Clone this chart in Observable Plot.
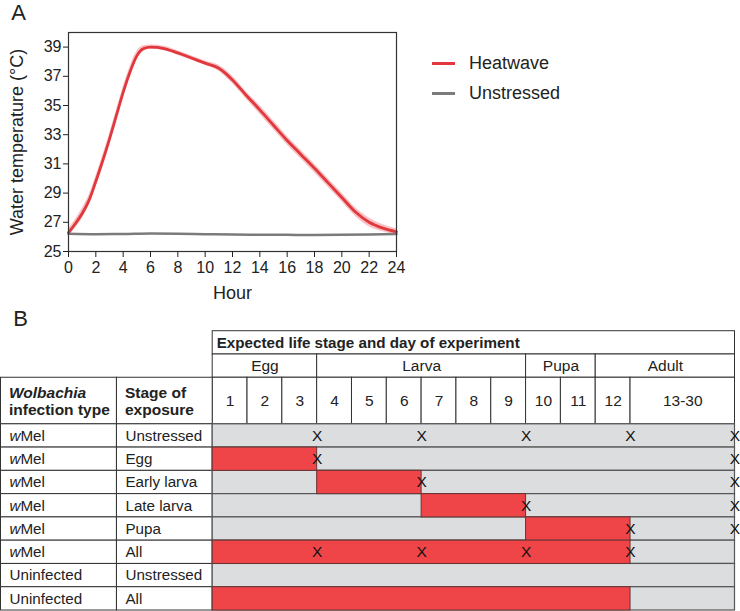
<!DOCTYPE html>
<html><head><meta charset="utf-8">
<script src="https://cdn.jsdelivr.net/npm/d3@7"></script>
<script src="https://cdn.jsdelivr.net/npm/@observablehq/plot@0.6"></script>
<style>
body{margin:0;background:#fff;}
#wrap{position:relative;width:740px;height:611px;font-family:"Liberation Sans",Arial,Helvetica,sans-serif;color:#222;overflow:hidden;}
#wrap svg{display:block;}
.legend{position:absolute;left:432px;top:48.75px;}
.legend .row{display:flex;align-items:center;height:29.5px;font-size:18px;}
.legend .sw{display:inline-block;width:23px;height:3px;margin-right:14px;}
</style></head><body><div id="wrap"></div>
<script>
// ---------- Panel A data ----------
const hours      = [0,0.5,1,1.5,2,2.5,3,3.5,4,4.5,5,5.5,6,7,8,9,10,11,12,13,14,15,16,17,18,19,20,21,22,23,24];
const heatwave   = [26.3,26.9,27.6,28.5,29.8,31.2,32.7,34.3,35.9,37.3,38.4,38.9,39.0,38.9,38.6,38.25,37.9,37.55,36.75,35.7,34.7,33.65,32.6,31.65,30.7,29.7,28.7,27.7,27.0,26.6,26.35];
const heatwaveSE = [0.25,0.3,0.35,0.35,0.35,0.35,0.35,0.35,0.35,0.35,0.3,0.2,0.15,0.15,0.15,0.15,0.15,0.2,0.25,0.25,0.3,0.3,0.3,0.3,0.3,0.3,0.3,0.3,0.3,0.25,0.2];
const unstressedHours = [0,2,4,6,8,10,12,14,16,18,20,22,24];
const unstressed      = [26.22,26.19,26.2,26.23,26.22,26.19,26.16,26.15,26.14,26.13,26.14,26.16,26.2];
const hourTicks = [0,2,4,6,8,10,12,14,16,18,20,22,24];
const tempTicks = [25,27,29,31,33,35,37,39];
const seriesNames  = ["Heatwave","Unstressed"];
const seriesColors = ["#e2383d","#7b7b7b"];

// ---------- Panel B data ----------
const headerTitle = "Expected life stage and day of experiment";
const lifeStages     = ["Egg","Larva","Pupa","Adult"];
const stageStartDay  = [1,4,10,12];
const stageEndDay    = [3,9,11,30];
const dayLabels = ["1","2","3","4","5","6","7","8","9","10","11","12","13-30"];
const dayStart  = [1,2,3,4,5,6,7,8,9,10,11,12,13];
const dayEnd    = [1,2,3,4,5,6,7,8,9,10,11,12,30];
const colHeaders    = ["Wolbachia\ninfection type","Stage of\nexposure"];
const infectionType = ["wMel","wMel","wMel","wMel","wMel","wMel","Uninfected","Uninfected"];
const exposureStage = ["Unstressed","Egg","Early larva","Late larva","Pupa","All","Unstressed","All"];
const heatFirstDay  = [null,1,4,7,10,1,null,1];
const heatLastDay   = [null,3,6,9,12,12,null,12];
const sampleDays    = [[3,6,9,12,30],[3,30],[6,30],[9,30],[12,30],[3,6,9,12],[],[]];

const font = '"Liberation Sans", Arial, Helvetica, sans-serif';
const wrap = document.getElementById("wrap");

// ---------- Panel A ----------
const heatData = hours.map((h,i)=>({h, t:heatwave[i], lo:heatwave[i]-heatwaveSE[i], hi:heatwave[i]+heatwaveSE[i]}));
const unData = unstressedHours.map((h,i)=>({h, t:unstressed[i]}));

const plotA = Plot.plot({
  width: 740, height: 305,
  marginLeft: 68, marginRight: 344, marginTop: 32, marginBottom: 54,
  style: {fontFamily: font, fontSize: "16px", color: "#222", background: "#fff", overflow: "visible"},
  x: {domain: [0,24]},
  y: {domain: [25,40]},
  marks: [
    Plot.areaY(heatData, {x:"h", y1:"lo", y2:"hi", fill:"#f6b3b6", fillOpacity:0.8, curve:"monotone-x"}),
    Plot.lineY(unData, {x:"h", y:"t", stroke:seriesColors[1], strokeWidth:2.5, curve:"monotone-x"}),
    Plot.lineY(heatData, {x:"h", y:"t", stroke:seriesColors[0], strokeWidth:2.8, curve:"monotone-x"}),
    Plot.frame({stroke:"#333", strokeWidth:1.2}),
    Plot.axisX({ticks:hourTicks, tickSize:6, tickPadding:4, label:null}),
    Plot.axisY({ticks:tempTicks, tickSize:5, tickPadding:2, label:null}),
    Plot.text(["Hour"], {text:d=>d, frameAnchor:"bottom", lineAnchor:"middle", dy:42, fontSize:18, fill:"#222"}),
    Plot.text(["Water temperature (°C)"], {text:d=>d, frameAnchor:"left", textAnchor:"middle", lineAnchor:"middle", rotate:-90, dx:-51, fontSize:18, fill:"#222"}),
    Plot.text(["A"], {text:d=>d, frameAnchor:"top-left", textAnchor:"middle", lineAnchor:"middle", dx:-50, dy:-19.5, fontSize:22, fill:"#222"})
  ]
});
wrap.appendChild(plotA);

// legend
const legend = document.createElement("div");
legend.className = "legend";
seriesNames.forEach((n,i)=>{
  const row = document.createElement("div");
  row.className = "row";
  const sw = document.createElement("span");
  sw.className = "sw";
  sw.style.background = seriesColors[i];
  row.appendChild(sw);
  row.appendChild(document.createTextNode(n));
  legend.appendChild(row);
});
wrap.appendChild(legend);

// ---------- Panel B ----------
// day-column positions: days 1-12 are one unit wide, the "13-30" column is three units wide
const pos = d => d <= 12 ? d : 12 + (d - 12) * 3 / 18;   // end of day d
const startOf = d => pos(d - 1);
const leftCols = [-6.08, -2.75, 0];   // borders of the two label columns (in day-widths)
const firstRow = 4;                    // header takes 4 row units

const headerCells = [];
headerCells.push({x1:startOf(1), x2:pos(30), y1:0, y2:1});
lifeStages.forEach((s,i)=>headerCells.push({x1:startOf(stageStartDay[i]), x2:pos(stageEndDay[i]), y1:1, y2:2}));
dayLabels.forEach((l,i)=>headerCells.push({x1:startOf(dayStart[i]), x2:pos(dayEnd[i]), y1:2, y2:firstRow}));
colHeaders.forEach((c,i)=>headerCells.push({x1:leftCols[i], x2:leftCols[i+1], y1:2, y2:firstRow}));
infectionType.forEach((t,r)=>{
  for (let c=0;c<2;c++) headerCells.push({x1:leftCols[c], x2:leftCols[c+1], y1:firstRow+r, y2:firstRow+r+1});
});

const grayBars = infectionType.map((t,r)=>({x1:startOf(1), x2:pos(30), y1:firstRow+r, y2:firstRow+r+1}));
const redBars = [];
heatFirstDay.forEach((d,r)=>{ if (d!=null) redBars.push({x1:startOf(d), x2:pos(heatLastDay[r]), y1:firstRow+r, y2:firstRow+r+1}); });
const xMarks = [];
sampleDays.forEach((ds,r)=>ds.forEach(d=>xMarks.push({x:pos(d), y:firstRow+r+0.5})));

const stageText = lifeStages.map((s,i)=>({t:s, x:(startOf(stageStartDay[i])+pos(stageEndDay[i]))/2, y:1.5}));
const dayText = dayLabels.map((l,i)=>({t:l, x:(startOf(dayStart[i])+pos(dayEnd[i]))/2, y:3}));
const colText = colHeaders.map((c,i)=>({t:c, x:leftCols[i], y:3}));
const rowText = [];
infectionType.forEach((t,r)=>{
  rowText.push({t, x:leftCols[0], y:firstRow+r+0.5});
  rowText.push({t:exposureStage[r], x:leftCols[1], y:firstRow+r+0.5});
});

const plotB = Plot.plot({
  width: 740, height: 306,
  margin: 0,
  style: {fontFamily: font, fontSize: "15px", color: "#222", background: "#fff", overflow: "visible"},
  x: {type:"linear", domain: [-6.08, 15], range: [0.5, 734.5], axis: null},
  y: {type:"linear", domain: [0, 12], range: [25.7, 305], axis: null},
  marks: [
    Plot.rect(headerCells, {x1:"x1", x2:"x2", y1:"y1", y2:"y2", fill:"#fff", stroke:"#333", strokeWidth:1}),
    Plot.rect(grayBars, {x1:"x1", x2:"x2", y1:"y1", y2:"y2", fill:"#dcdddf", stroke:"#555", strokeWidth:1.2}),
    Plot.rect(redBars, {x1:"x1", x2:"x2", y1:"y1", y2:"y2", fill:"#ef4549", stroke:"#6a3434", strokeWidth:1}),
    Plot.text([headerTitle], {text:d=>d, x:startOf(1), y:0.5, dx:4, textAnchor:"start", fontWeight:"bold", fontSize:15.2, fill:"#222"}),
    Plot.text(stageText, {x:"x", y:"y", text:"t", fontSize:15.5, fill:"#222"}),
    Plot.text(dayText, {x:"x", y:"y", text:"t", fontSize:15.5, fill:"#222"}),
    Plot.text(colText, {x:"x", y:"y", text:"t", dx:8, textAnchor:"start", fontWeight:"bold", fontSize:15.5, lineHeight:1.08, fill:"#222"}),
    Plot.text(rowText, {x:"x", y:"y", text:"t", dx:8.5, textAnchor:"start", fontSize:15.2, fill:"#222"}),
    Plot.text(xMarks, {x:"x", y:"y", text:()=>"X", fontSize:15.5, fill:"#111"}),
    Plot.text(["B"], {text:d=>d, frameAnchor:"top-left", textAnchor:"middle", lineAnchor:"middle", dx:20, dy:13, fontSize:22, fill:"#222"})
  ]
});

// italic styling for the genus name and the "w" of wMel
d3.select(plotB).selectAll("text").each(function(){
  const el = this;
  const tspans = el.querySelectorAll("tspan");
  if (tspans.length > 1 && tspans[0].textContent === "Wolbachia") {
    tspans[0].setAttribute("font-style","italic");
  }
  if (el.textContent === "wMel" && tspans.length === 0) {
    el.textContent = "";
    const a = document.createElementNS("http://www.w3.org/2000/svg","tspan");
    a.setAttribute("font-style","italic"); a.textContent = "w";
    const b = document.createElementNS("http://www.w3.org/2000/svg","tspan");
    b.textContent = "Mel";
    el.appendChild(a); el.appendChild(b);
  }
});
wrap.appendChild(plotB);
</script></body></html>
